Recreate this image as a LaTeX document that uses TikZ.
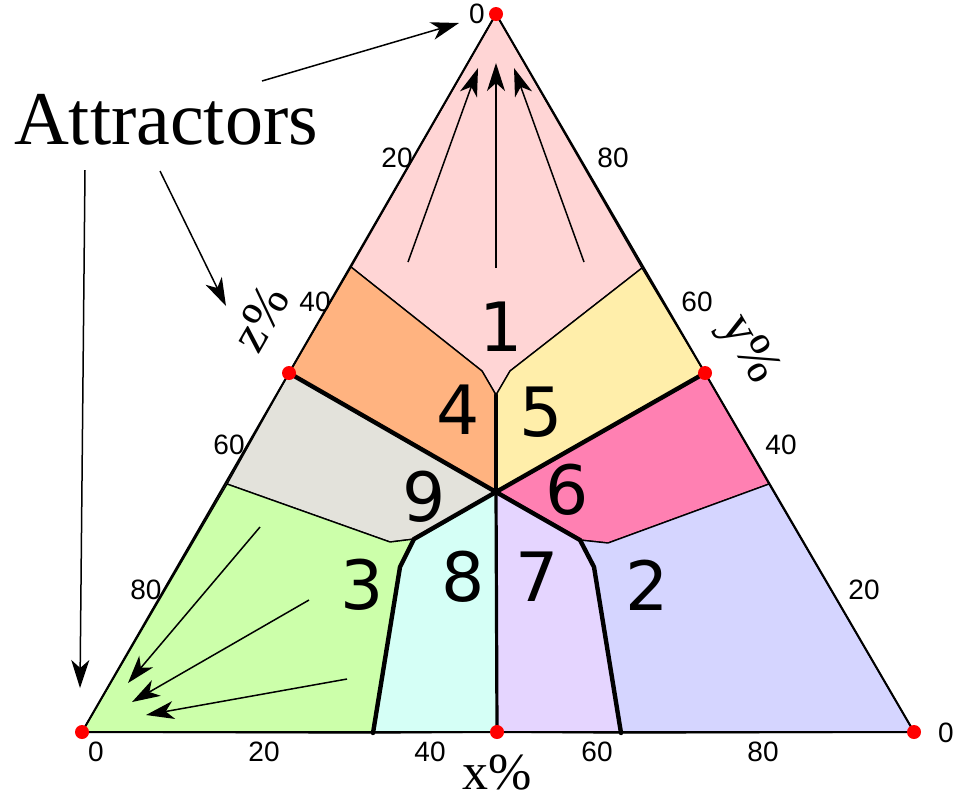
\documentclass[tikz,border=0pt]{standalone}
\usepackage{fontspec}
\setmainfont{Liberation Serif}
\newfontfamily\digfont{DejaVu Sans}
\newfontfamily\tickfont{Liberation Sans}
\usetikzlibrary{arrows.meta}
\definecolor{reg1}{HTML}{FFD5D5}
\definecolor{reg2}{HTML}{D5D5FF}
\definecolor{reg3}{HTML}{CCFFAA}
\definecolor{reg4}{HTML}{FFB380}
\definecolor{reg5}{HTML}{FFEEAA}
\definecolor{reg6}{HTML}{FF80B2}
\definecolor{reg7}{HTML}{E5D5FF}
\definecolor{reg8}{HTML}{D5FFF6}
\definecolor{reg9}{HTML}{E3E2DB}
\tikzset{
    region/.style={
        draw=black, line width=0.7pt, line join=round
    },
    border/.style={
        draw=black, line width=2.2pt, line cap=round
    },
    regnum/.style={
        font=\digfont\fontsize{34}{36}\selectfont, inner sep=0pt
    },
    ticklabel/.style={
        font=\tickfont\fontsize{14}{16}\selectfont, inner sep=0pt
    },
    axislabel/.style={
        font=\fontsize{26}{28}\selectfont, inner sep=0pt
    },
    flow/.style={
        -{Stealth[length=14pt, width=9pt, inset=4pt]}, line width=0.75pt
    },
    vertexdot/.style={
        fill=red, draw=none
    }
}

\begin{document}
\begin{tikzpicture}[x=0.5pt, y=-0.5pt]
\useasboundingbox (0,0) rectangle (956,799);

% corners, midpoints, centre
\coordinate (T) at (496,14);
\coordinate (L) at (82,732);
\coordinate (R) at (914,732);
\coordinate (ML) at (289,373);
\coordinate (MR) at (705,373);
\coordinate (MB) at (497,732);
\coordinate (C) at (496,492);

% points where the regions meet
\coordinate (e14) at (351,267);
\coordinate (e15) at (642,268);
\coordinate (e93) at (227,484);
\coordinate (e62) at (769,484);
\coordinate (b38) at (373,733);
\coordinate (b72) at (621,733);
\coordinate (k4) at (482,371);
\coordinate (k5) at (510,371);
\coordinate (k1) at (496,395);
\coordinate (k9) at (390,542);
\coordinate (k8) at (414,539);
\coordinate (k3) at (400,567);
\coordinate (k6) at (608,543);
\coordinate (k7) at (580,540);
\coordinate (k2) at (594,567);

\filldraw[region, fill=reg1] (T) -- (e14) -- (k4) -- (k1) -- (k5) -- (e15) -- cycle;
\filldraw[region, fill=reg4] (e14) -- (ML) -- (C) -- (k1) -- (k4) -- cycle;
\filldraw[region, fill=reg5] (e15) -- (MR) -- (C) -- (k1) -- (k5) -- cycle;
\filldraw[region, fill=reg9] (ML) -- (e93) -- (k9) -- (k8) -- (C) -- cycle;
\filldraw[region, fill=reg6] (MR) -- (e62) -- (k6) -- (k7) -- (C) -- cycle;
\filldraw[region, fill=reg3] (e93) -- (L) -- (b38) -- (k3) -- (k8) -- (k9) -- cycle;
\filldraw[region, fill=reg8] (C) -- (k8) -- (k3) -- (b38) -- (MB) -- cycle;
\filldraw[region, fill=reg7] (C) -- (k7) -- (k2) -- (b72) -- (MB) -- cycle;
\filldraw[region, fill=reg2] (e62) -- (R) -- (b72) -- (k2) -- (k7) -- (k6) -- cycle;

\draw[line width=1pt, line join=round] (T) -- (L) -- (R) -- cycle;

\draw[border] (ML) -- (C) -- (MR);
\draw[border] (C) -- (k1);
\draw[border, line width=1.6pt] (C) -- (MB);
\draw[border] (C) -- (k8) -- (k3) -- (b38);
\draw[border] (C) -- (k7) -- (k2) -- (b72);

\foreach \p in {T, L, R, ML, MR, MB}
    \fill[vertexdot] (\p) circle (3.5pt);

% region numbers
\node[regnum] (r1) at (501,327) {1};
\node[regnum] (r2) at (647,585) {2};
\node[regnum] (r3) at (362,585) {3};
\node[regnum] (r4) at (458,410) {4};
\node[regnum] (r5) at (541,412) {5};
\node[regnum] (r6) at (567,490) {6};
\node[regnum] (r7) at (537,577) {7};
\node[regnum] (r8) at (463,577) {8};
\node[regnum] (r9) at (424,497) {9};

% ticks
\node[ticklabel] (zt0) at (477,14) {0};
\node[ticklabel] (zt20) at (397,158) {20};
\node[ticklabel] (zt40) at (315,302) {40};
\node[ticklabel] (zt60) at (229,445) {60};
\node[ticklabel] (zt80) at (146,590) {80};
\node[ticklabel] (yt80) at (613,158) {80};
\node[ticklabel] (yt60) at (697,302) {60};
\node[ticklabel] (yt40) at (781,445) {40};
\node[ticklabel] (yt20) at (864,590) {20};
\node[ticklabel] (yt0) at (946,733) {0};
\node[ticklabel] (xt0) at (96,752) {0};
\node[ticklabel] (xt20) at (264,752) {20};
\node[ticklabel] (xt40) at (430,752) {40};
\node[ticklabel] (xt60) at (597,752) {60};
\node[ticklabel] (xt80) at (763,752) {80};

\node[axislabel] (xlab) at (497,773) {x\%};
\node[axislabel, rotate=-60] (ylab) at (748,350) {y\%};
\node[axislabel, rotate=60] (zlab) at (260,318) {z\%};

\node[font=\fontsize{38}{40}\selectfont, inner sep=0pt] (attr) at (166,120) {Attractors};

% flows towards the corners
\coordinate (f1s) at (408,262);
\coordinate (f1e) at (478,68);
\coordinate (f2s) at (496,268);
\coordinate (f2e) at (496,63);
\coordinate (f3s) at (584,262);
\coordinate (f3e) at (514,68);
\coordinate (g1s) at (260,527);
\coordinate (g1e) at (128,683);
\coordinate (g2s) at (309,600);
\coordinate (g2e) at (132,702);
\coordinate (g3s) at (347,679);
\coordinate (g3e) at (146,715);
\draw[flow] (f1s) -- (f1e);
\draw[flow] (f2s) -- (f2e);
\draw[flow] (f3s) -- (f3e);
\draw[flow] (g1s) -- (g1e);
\draw[flow] (g2s) -- (g2e);
\draw[flow] (g3s) -- (g3e);

% pointers from the label
\coordinate (p1s) at (262,81);
\coordinate (p1e) at (459,23);
\coordinate (p2s) at (85,170);
\coordinate (p2e) at (80,688);
\coordinate (p3s) at (160,171);
\coordinate (p3e) at (226,306);
\draw[flow] (p1s) -- (p1e);
\draw[flow] (p2s) -- (p2e);
\draw[flow] (p3s) -- (p3e);

\end{tikzpicture}
\end{document}
